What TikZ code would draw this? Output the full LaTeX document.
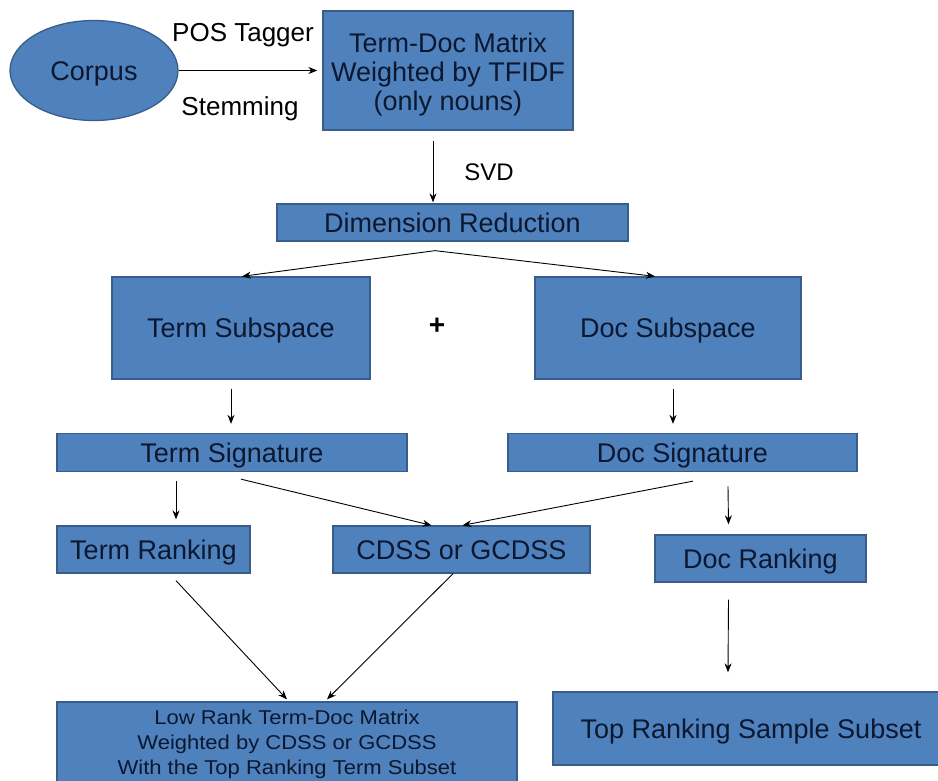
\documentclass[tikz,border=0pt]{standalone}
\usepackage{fontspec}
\setmainfont{Liberation Sans}
\newfontfamily\widesans[FakeStretch=1.1]{Liberation Sans}
\usetikzlibrary{shapes.geometric,arrows.meta,calc}

\definecolor{boxfill}{HTML}{4F81BD}
\definecolor{boxline}{HTML}{385D8A}
\definecolor{boxtext}{HTML}{0B1830}

\tikzset{
  blk/.style={draw=boxline, line width=1.3pt, fill=boxfill, text=boxtext,
    inner sep=0pt, align=center, text height=19.3pt, text depth=0pt,
    font=\fontsize{27}{29}\selectfont},
  oval/.style={blk, ellipse},
  boxtxt/.style={inner sep=0pt, text=boxtext, align=center},
  lbl/.style={inner sep=0pt, text=black, text height=18.6pt, text depth=0pt,
    font=\fontsize{26}{28}\selectfont},
  arr/.style={draw=black, line width=0.9pt, -{Stealth[length=9pt,width=7pt]}}
}

\begin{document}
\begin{tikzpicture}[x=1pt, y=-1pt]
\useasboundingbox (0,0) rectangle (938,780);
\clip (0,0) rectangle (938,780);

% source and first matrix
\node[oval, minimum width=168, minimum height=100] (corpus) at (94,70.5) {Corpus};
\node[lbl] (pos) at (243,32) {POS Tagger};
\node[lbl] (stem) at (240,106) {Stemming};
\node[blk, minimum width=250, minimum height=119] (tdm) at (448,70.5) {};
\node[boxtxt, font=\fontsize{27}{29}\selectfont] (tdmtxt) at (448,75)
  {Term-Doc Matrix\\Weighted by TFIDF\\(only nouns)};
\node[lbl, font=\fontsize{24}{28}\selectfont, text height=17.2pt] (svd) at (489,172) {SVD};

% reduction and subspaces
\node[blk, minimum width=351, minimum height=37] (dim) at (452.5,222.5) {Dimension Reduction};
\node[blk, minimum width=258, minimum height=102] (tsub) at (241,328) {Term Subspace};
\node[blk, minimum width=266, minimum height=102] (dsub) at (668,328) {Doc Subspace};
\node[lbl, font=\fontsize{28}{28}\selectfont\bfseries] (plus) at (437,325) {+};

% signatures and rankings
\node[blk, minimum width=350, minimum height=38] (tsig) at (232,452.5) {Term Signature};
\node[blk, minimum width=349, minimum height=38] (dsig) at (682.5,452.5) {Doc Signature};
\node[blk, minimum width=193, minimum height=47] (trank) at (153.5,549.5) {Term Ranking};
\node[blk, minimum width=257, minimum height=47] (cdss) at (461.5,549.5) {CDSS or GCDSS};
\node[blk, minimum width=211, minimum height=47] (drank) at (760.5,558.5) {Doc Ranking};

% results
\node[blk, minimum width=460, minimum height=90] (low) at (287,747) {};
\node[boxtxt, font=\widesans\fontsize{20}{25}\selectfont] (lowtxt) at (287,744)
  {Low Rank Term-Doc Matrix\\Weighted by CDSS or GCDSS\\With the Top Ranking Term Subset};
\node[blk, minimum width=404, minimum height=73] (top) at (755,728.5) {};
\node[boxtxt, text height=19.3pt, text depth=0pt, font=\fontsize{27}{30}\selectfont]
  (toptxt) at (751,729) {Top Ranking Sample Subset};

% connectors
\draw[arr] (corpus.east) -- ($(tdm.west)+(-5,0)$);
\draw[arr] ($(tdm.south)+(-15,10)$) -- ($(dim.north)+(-19.5,-1)$);
\coordinate (apex) at ($(dim.south)+(-17.5,9)$);
\draw[arr] (apex) -- ($(tsub.north)+(1,0)$);
\draw[arr] (apex) -- ($(dsub.north)+(-13,0)$);
\draw[arr] ($(tsub.south)+(-10,9)$) -- ($(tsig.north)+(-1,-9)$);
\draw[arr] ($(dsub.south)+(5,9)$) -- ($(dsig.north)+(-9.5,-9)$);
\draw[arr] ($(tsig.south)+(-56,9)$) -- ($(trank.north)+(22.5,-6)$);
\draw[arr] ($(tsig.south)+(9,7)$) -- ($(cdss.north)+(-30,0)$);
\draw[arr] ($(dsig.south)+(10.5,9)$) -- ($(cdss.north)+(1,0)$);
\draw[arr] ($(dsig.south)+(45.5,14)$) -- ($(drank.north)+(-32,-10)$);
\draw[arr] ($(trank.south)+(22.5,7)$) -- ($(low.north)+(0,-2)$);
\draw[arr] ($(cdss.south)+(-8.5,0)$) -- ($(low.north)+(40,-2)$);
\draw[arr] ($(drank.south)+(-32,17)$) -- ($(top.north)+(-27,-19)$);
\end{tikzpicture}
\end{document}
